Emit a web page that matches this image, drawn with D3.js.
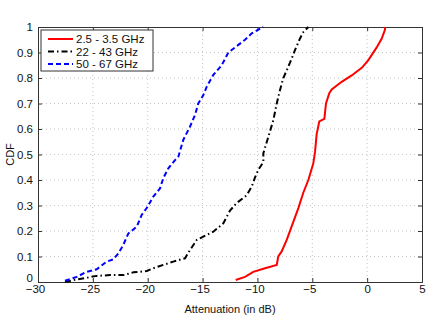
<!DOCTYPE html>
<html>
<head>
<meta charset="utf-8">
<script src="https://cdnjs.cloudflare.com/ajax/libs/d3/7.8.5/d3.min.js"></script>
<style>
  body { margin: 0; background: #fff; }
  svg text { font-family: "Liberation Sans", Arial, sans-serif; }
</style>
</head>
<body>
<div id="chart"></div>
<script>
// series: [attenuation dB, CDF]
var lowBand = [
  [-11.98, 0.008], [-11.13, 0.02], [-10.38, 0.04], [-9.31, 0.054], [-8.24, 0.067],
  [-8.10, 0.1], [-7.79, 0.12], [-7.33, 0.165], [-6.73, 0.236], [-6.27, 0.29],
  [-5.82, 0.35], [-5.36, 0.4], [-4.91, 0.465], [-4.75, 0.51], [-4.60, 0.58],
  [-4.36, 0.63], [-3.90, 0.64], [-3.75, 0.70], [-3.45, 0.74], [-3.23, 0.755],
  [-2.32, 0.785], [-1.41, 0.81], [-0.49, 0.84], [0.11, 0.87], [0.87, 0.92],
  [1.33, 0.955], [1.63, 0.99], [1.63, 1.0]
];
var midBand = [
  [-27.54, 0.0], [-26.47, 0.01], [-25.41, 0.018], [-24.65, 0.024], [-23.44, 0.027],
  [-22.2, 0.027], [-21.3, 0.038], [-20.09, 0.043], [-19.49, 0.054], [-18.58, 0.067],
  [-17.67, 0.08], [-16.6, 0.093], [-16.15, 0.125], [-15.53, 0.165], [-14.93, 0.178],
  [-14.02, 0.197], [-13.11, 0.23], [-12.5, 0.28], [-11.89, 0.31], [-10.98, 0.34],
  [-10.52, 0.374], [-10.22, 0.41], [-9.92, 0.44], [-9.46, 0.47], [-9.46, 0.505],
  [-9.0, 0.57], [-8.55, 0.635], [-8.24, 0.70], [-7.94, 0.753], [-7.64, 0.80],
  [-7.33, 0.83], [-6.87, 0.877], [-6.57, 0.91], [-6.12, 0.955], [-5.82, 0.98],
  [-5.36, 1.0]
];
var highBand = [
  [-27.54, 0.005], [-26.47, 0.02], [-25.56, 0.04], [-24.65, 0.05], [-23.74, 0.08],
  [-23.14, 0.089], [-22.68, 0.112], [-22.23, 0.145], [-21.77, 0.19], [-21.0, 0.217],
  [-20.55, 0.263], [-20.09, 0.29], [-19.49, 0.335], [-18.88, 0.367], [-18.58, 0.407],
  [-18.12, 0.446], [-17.51, 0.478], [-17.21, 0.491], [-16.76, 0.557], [-16.15, 0.609],
  [-15.69, 0.655], [-15.39, 0.70], [-14.93, 0.733], [-14.62, 0.766], [-14.02, 0.812],
  [-13.26, 0.85], [-12.65, 0.90], [-11.74, 0.93], [-11.13, 0.95], [-10.52, 0.975],
  [-9.92, 0.99], [-9.46, 1.0]
];
var seriesNames = ['2.5 - 3.5 GHz', '22 - 43 GHz', '50 - 67 GHz'];
var xTicks = [-30, -25, -20, -15, -10, -5, 0, 5];
var yTicks = [0, 0.1, 0.2, 0.3, 0.4, 0.5, 0.6, 0.7, 0.8, 0.9, 1];

var W = 429, H = 319;
var margin = {left: 38, right: 7, top: 27, bottom: 37};
var w = W - margin.left - margin.right;
var h = H - margin.top - margin.bottom;

var svg = d3.select('#chart').append('svg')
  .attr('width', W)
  .attr('height', H);

var g = svg.append('g').attr('transform', 'translate(' + margin.left + ',' + margin.top + ')');

var x = d3.scaleLinear().domain([-30, 5]).range([0, w]);
var y = d3.scaleLinear().domain([0, 1]).range([h, 0]);

// grid
g.append('g').selectAll('line').data(xTicks.slice(1, -1)).enter().append('line')
  .attr('x1', d => x(d)).attr('x2', d => x(d))
  .attr('y1', 0).attr('y2', h)
  .attr('stroke', '#c4c4c4').attr('stroke-dasharray', '1,3');
g.append('g').selectAll('line').data(yTicks.slice(1, -1)).enter().append('line')
  .attr('x1', 0).attr('x2', w)
  .attr('y1', d => y(d)).attr('y2', d => y(d))
  .attr('stroke', '#c4c4c4').attr('stroke-dasharray', '1,3');

// axes
var xAxis = g.append('g').attr('transform', 'translate(0,' + h + ')')
  .call(d3.axisBottom(x).tickValues(xTicks).tickSize(-4).tickPadding(3).tickFormat(d3.format('d')));
var yAxis = g.append('g')
  .call(d3.axisLeft(y).tickValues(yTicks).tickSize(-4).tickPadding(5).tickFormat(d => d === 0 || d === 1 ? d : d3.format('.1f')(d)));
g.append('g').attr('transform', 'translate(0,0)')
  .call(d3.axisTop(x).tickValues(xTicks).tickSize(-4).tickFormat(''));
g.append('g').attr('transform', 'translate(' + w + ',0)')
  .call(d3.axisRight(y).tickValues(yTicks).tickSize(-4).tickFormat(''));
g.selectAll('.domain').attr('stroke', '#333');
g.selectAll('.tick line').attr('stroke', '#333');
g.selectAll('.tick text').attr('font-size', 11.5).attr('fill', '#111')
  .attr('font-family', '"Liberation Sans", Arial, sans-serif');
// MATLAB-style: minus sign hangs left of the digits
xAxis.selectAll('.tick text').attr('dx', d => d < 0 ? -3 : 0);
// lift the y "0" a little off the x labels
yAxis.selectAll('.tick text').filter(d => d === 0).attr('dy', '-0.05em');

// curves
var line = d3.line().x(d => x(d[0])).y(d => y(d[1]));
var styles = [
  {data: lowBand, color: '#ff0000', dash: null},
  {data: midBand, color: '#000000', dash: '6,3,1.5,3'},
  {data: highBand, color: '#0000ff', dash: '5,3'}
];
styles.forEach(function(s) {
  g.append('path').datum(s.data)
    .attr('d', line)
    .attr('fill', 'none')
    .attr('stroke', s.color)
    .attr('stroke-width', 2)
    .attr('stroke-dasharray', s.dash);
});

// legend
var lg = g.append('g').attr('transform', 'translate(3,3)');
lg.append('rect').attr('width', 112).attr('height', 41)
  .attr('fill', '#fff').attr('stroke', '#333').attr('stroke-width', 1);
styles.forEach(function(s, i) {
  var yy = 9 + i * 12.5;
  lg.append('line').attr('x1', 7).attr('x2', 32).attr('y1', yy).attr('y2', yy)
    .attr('stroke', s.color).attr('stroke-width', 2).attr('stroke-dasharray', s.dash);
  lg.append('text').attr('x', 35).attr('y', yy + 4).attr('font-size', 11.5)
    .attr('fill', '#111').text(seriesNames[i]);
});

// axis labels
svg.append('text').attr('x', margin.left + w / 2).attr('y', 313)
  .attr('text-anchor', 'middle').attr('font-size', 11).attr('fill', '#111')
  .text('Attenuation (in dB)');
svg.append('text').attr('transform', 'translate(14,' + (margin.top + h / 2) + ') rotate(-90)')
  .attr('text-anchor', 'middle').attr('font-size', 11).attr('fill', '#111')
  .text('CDF');
</script>
</body>
</html>
